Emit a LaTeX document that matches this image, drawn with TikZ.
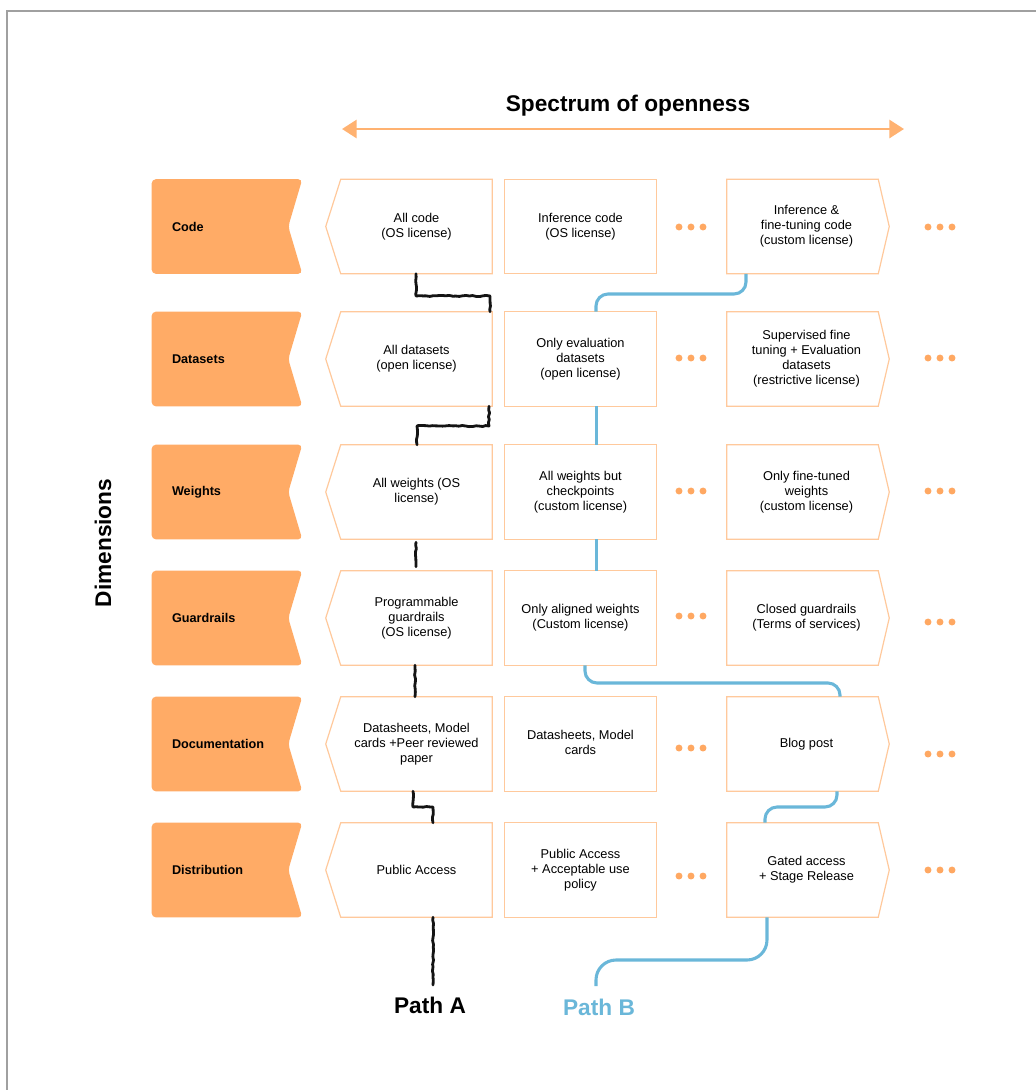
\documentclass[tikz,border=0pt]{standalone}
\usepackage{fontspec}
\setmainfont{Liberation Sans}
\usetikzlibrary{arrows.meta,decorations.pathmorphing,calc,backgrounds}
\definecolor{lblfill}{HTML}{FFAB66}
\definecolor{boxc}{HTML}{FFC99C}
\definecolor{dotc}{HTML}{FFA862}
\definecolor{arrc}{HTML}{FFB271}
\definecolor{pathbc}{HTML}{6AB7D9}
\definecolor{framec}{HTML}{A0A0A0}
\pgfmathsetseed{7}
\newcommand\myChevL[1]{\draw[boxline] (#1.north east) -- (#1.south east) -- (#1.south west) -- ([xshift=-11.25pt]#1.west) -- (#1.north west) -- cycle;}
\newcommand\myChevR[1]{\draw[boxline] ([xshift=-3pt]#1.north west) -- ([xshift=-3pt]#1.north east) -- ([xshift=5.25pt]#1.east) -- ([xshift=-3pt]#1.south east) -- ([xshift=-3pt]#1.south west) -- cycle;}
\newcommand\myRect[1]{\draw[boxline] (#1.north west) rectangle (#1.south east);}
\begin{document}
\begin{tikzpicture}[x=0.75pt,y=-0.75pt,
  lbl/.style={minimum height=70.5pt, text width=82.5pt, inner xsep=15pt, inner ysep=0pt, align=left, font=\fontsize{9.5}{11}\selectfont\bfseries},
  cell/.style={minimum height=70.5pt, minimum width=113.25pt, inner sep=0pt, align=center, font=\fontsize{9.6}{11.3}\selectfont},
  boxline/.style={draw=boxc, line width=0.9pt, line join=miter},
  bigtxt/.style={font=\fontsize{17}{20}\selectfont\bfseries},
  patha/.style={draw=black!92, line width=2.1pt, line join=round, line cap=round, decorate, decoration={random steps, segment length=2.5pt, amplitude=0.45pt}},
  pathb/.style={draw=pathbc, line width=2.3pt, rounded corners=9pt},
  dot/.style={fill=dotc}]
\useasboundingbox (0,0) rectangle (1036,1090);
% frame
\draw[framec, line width=1.5pt] (7,1090) -- (7,11) -- (1036,11);

% title and arrow
\node[bigtxt] (title) at (628,106) {Spectrum of openness};
\coordinate (al) at (342,129);
\coordinate (ar) at (904,129);
\draw[arrc, line width=2.2pt, {Triangle[width=13.5pt,length=11pt]}-{Triangle[width=13.5pt,length=11pt]}] (al) -- (ar);

\node[bigtxt, rotate=90] (dim) at (103,543) {Dimensions};

% dimension labels
\node[lbl] (L1) at (227,226.5) {Code};
\node[lbl] (L2) at (227,359) {Datasets};
\node[lbl] (L3) at (227,492) {Weights};
\node[lbl] (L4) at (227,618) {Guardrails};
\node[lbl] (L5) at (227,744) {Documentation};
\node[lbl] (L6) at (227,870) {Distribution};

% column 1
\node[cell] (A1) at (416.5,226.5) {All code\\(OS license)};
\node[cell] (A2) at (416.5,359) {All datasets\\(open license)};
\node[cell] (A3) at (416.5,492) {All weights (OS\\license)};
\node[cell] (A4) at (416.5,618) {Programmable\\guardrails\\(OS license)};
\node[cell] (A5) at (416.5,744) {Datasheets, Model\\cards +Peer reviewed\\paper};
\node[cell] (A6) at (416.5,870) {Public Access};

% column 2
\node[cell] (B1) at (580.5,226.5) {Inference code\\(OS license)};
\node[cell] (B2) at (580.5,359) {Only evaluation\\datasets\\(open license)};
\node[cell] (B3) at (580.5,492) {All weights but\\checkpoints\\(custom license)};
\node[cell] (B4) at (580.5,618) {Only aligned weights\\(Custom license)};
\node[cell] (B5) at (580.5,744) {\raisebox{4pt}{\begin{tabular}{@{}c@{}}Datasheets, Model\\cards\end{tabular}}};
\node[cell] (B6) at (580.5,870) {Public Access\\+ Acceptable use\\policy};

% column 3
\node[cell] (C1) at (806.5,226.5) {Inference \&\\fine-tuning code\\(custom license)};
\node[cell] (C2) at (806.5,359) {Supervised fine\\tuning + Evaluation\\datasets\\(restrictive license)};
\node[cell] (C3) at (806.5,492) {Only fine-tuned\\weights\\(custom license)};
\node[cell] (C4) at (806.5,618) {Closed guardrails\\(Terms of services)};
\node[cell] (C5) at (806.5,744) {Blog post};
\node[cell] (C6) at (806.5,870) {Gated access\\+ Stage Release};

\begin{pgfonlayer}{background}
  \fill[white] (0,0) rectangle (1036,1090);
  \foreach \n in {1,...,6}
    \fill[lblfill, rounded corners=3pt] (L\n.north west) -- (L\n.north east) -- ([xshift=-10.5pt]L\n.east) -- (L\n.south east) -- (L\n.south west) -- cycle;
\end{pgfonlayer}

\foreach \n in {1,...,6} {\myChevL{A\n} \myRect{B\n} \myChevR{C\n}}

% ellipsis dots
\foreach \ya/\yb in {227/227, 358/358, 491/491, 616/622, 748/754, 876/870} {
  \foreach \x in {679,691,703} \fill[dot] (\x,\ya) circle (2.6pt);
  \foreach \x in {928,940,952} \fill[dot] (\x,\yb) circle (2.6pt);
}

% path labels
\node[bigtxt] (PA) at (430,1005) {Path A};
\node[bigtxt, text=pathbc] (PB) at (599,1007) {Path B};
\coordinate (ea) at (433,985);
\coordinate (eb) at (596,986);

% Path A
\draw[patha] (A1.south -| 416,0) -- (416,296) -- (490,296) -- (A2.north -| 490,0);
\draw[patha] (A2.south -| 489,0) -- (489,426) -- (417,426) -- (A3.north -| 417,0);
\draw[patha] ($(A3.south -| 416,0)+(0,3)$) -- ($(A4.north -| 416,0)+(0,-4)$);
\draw[patha] (A4.south -| 415,0) -- (A5.north -| 415,0);
\draw[patha] (A5.south -| 413,0) -- (413,807) -- (433,807) -- (A6.north -| 433,0);
\draw[patha] (A6.south -| 433,0) -- (ea);

% Path B
\draw[pathb] (C1.south -| 746,0) -- (746,294) -- (596,294) -- (B2.north -| 596,0);
\draw[pathb] (B2.south -| 596.5,0) -- (B3.north -| 596.5,0);
\draw[pathb] (B3.south -| 596.5,0) -- (B4.north -| 596.5,0);
\draw[pathb] (B4.south -| 585,0) -- (585,683) -- (840,683) -- (C5.north -| 840,0);
\draw[pathb] (C5.south -| 837,0) -- (837,807) -- (765,807) -- (C6.north -| 765,0);
\draw[pathb, rounded corners=15pt] (C6.south -| 767,0) -- (767,960) -- (596,960) -- (eb);
\end{tikzpicture}
\end{document}
